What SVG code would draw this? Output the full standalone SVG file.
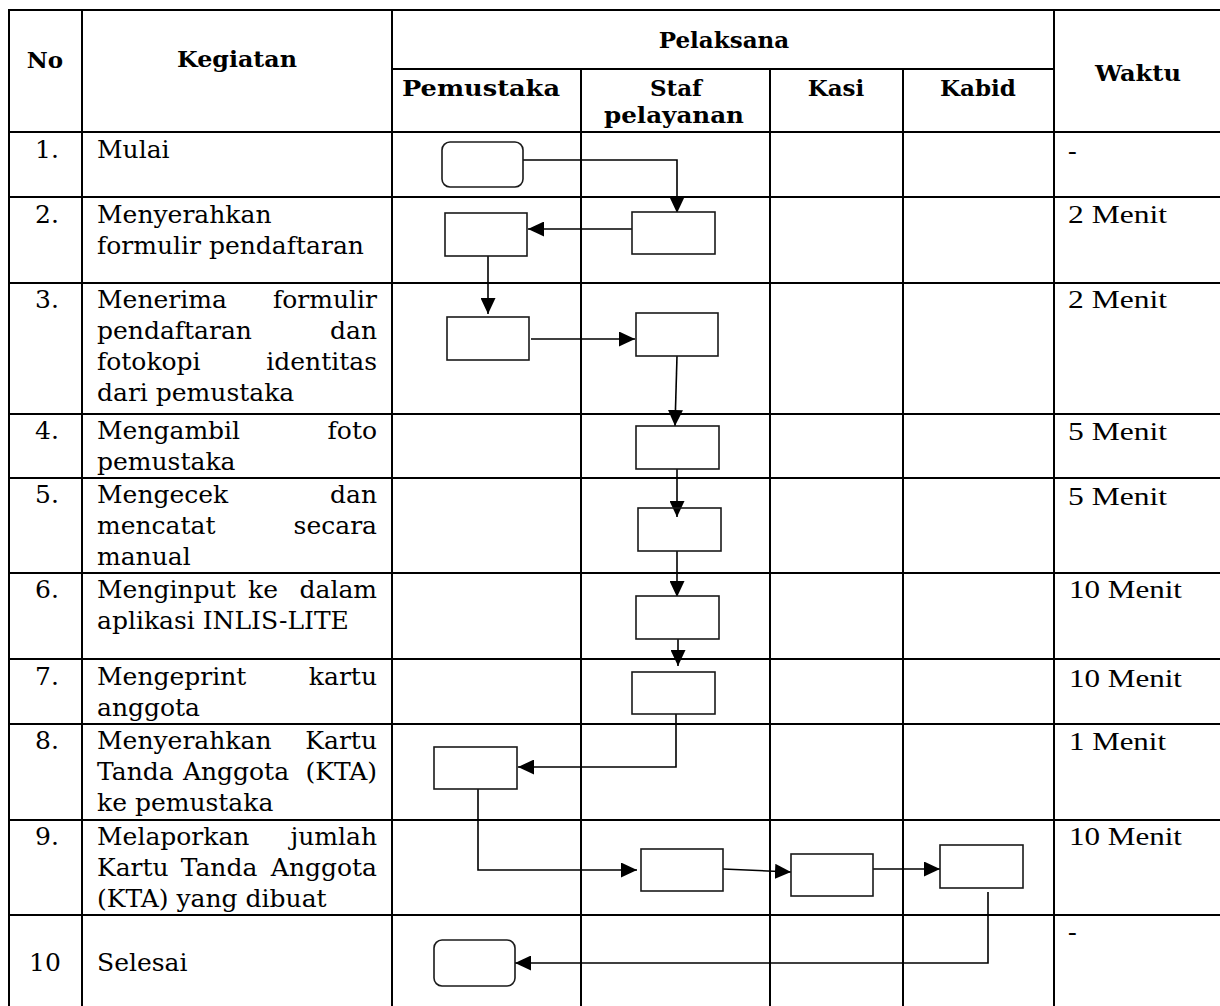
<svg xmlns="http://www.w3.org/2000/svg" width="1220" height="1006" viewBox="0 0 1220 1006">
<style>
.grid{stroke:#000;stroke-width:2;fill:none}
.box{fill:#fff;stroke:#1a1a1a;stroke-width:1.6}
.con{fill:none;stroke:#000;stroke-width:1.6}
.h{font-family:"DejaVu Serif","Liberation Serif",serif;font-weight:bold;font-size:23px;fill:#000}
.t{font-family:"DejaVu Serif","Liberation Serif",serif;font-size:25px;fill:#000}
.n{font-family:"DejaVu Serif","Liberation Serif",serif;font-size:25px;fill:#000;text-anchor:middle}
.w{font-family:"Liberation Serif","Times New Roman",serif;font-size:26px;fill:#000}
.c{text-anchor:middle}
.e{text-anchor:end}
</style>
<defs>
<marker id="arr" viewBox="0 0 16 15" markerWidth="16" markerHeight="15" refX="16" refY="7.5" orient="auto" markerUnits="userSpaceOnUse">
<path d="M0,0 L16,7.5 L0,15 z" fill="#000"/>
</marker>
</defs>
<rect width="1220" height="1006" fill="#fff"/>
<g id="table">
<path class="grid" d="M9,10 H1220 M392,69 H1054 M9,132 H1220 M9,197 H1220 M9,283 H1220 M9,414 H1220 M9,478 H1220 M9,573 H1220 M9,659 H1220 M9,724 H1220 M9,820 H1220 M9,915 H1220"/>
<path class="grid" d="M9,9 V1006 M82,9 V1006 M392,9 V1006 M1054,9 V1006 M581,69 V1006 M770,69 V1006 M903,69 V1006"/>
<text class="h c" x="45" y="68">No</text>
<text class="h c" x="237" y="67" textLength="120" lengthAdjust="spacingAndGlyphs">Kegiatan</text>
<text class="h c" x="724" y="48">Pelaksana</text>
<text class="h c" x="481" y="96" textLength="158" lengthAdjust="spacingAndGlyphs">Pemustaka</text>
<text class="h c" x="676" y="96">Staf</text>
<text class="h c" x="674" y="123" textLength="140" lengthAdjust="spacingAndGlyphs">pelayanan</text>
<text class="h c" x="836" y="96">Kasi</text>
<text class="h c" x="978" y="96">Kabid</text>
<text class="h c" x="1138" y="81" textLength="86" lengthAdjust="spacingAndGlyphs">Waktu</text>
<text class="n" x="47" y="158">1.</text>
<text class="n" x="47" y="223">2.</text>
<text class="n" x="47" y="308">3.</text>
<text class="n" x="47" y="439">4.</text>
<text class="n" x="47" y="503">5.</text>
<text class="n" x="47" y="598">6.</text>
<text class="n" x="47" y="685">7.</text>
<text class="n" x="47" y="749">8.</text>
<text class="n" x="47" y="845">9.</text>
<text class="n" x="45" y="971">10</text>
<text class="t" x="97" y="158">Mulai</text>
<text class="t" x="97" y="223">Menyerahkan</text>
<text class="t" x="97" y="254">formulir pendaftaran</text>
<text class="t" x="97" y="308">Menerima</text><text class="t e" x="377" y="308">formulir</text>
<text class="t" x="97" y="339">pendaftaran</text><text class="t e" x="377" y="339">dan</text>
<text class="t" x="97" y="370">fotokopi</text><text class="t e" x="377" y="370">identitas</text>
<text class="t" x="97" y="401">dari pemustaka</text>
<text class="t" x="97" y="439">Mengambil</text><text class="t e" x="377" y="439">foto</text>
<text class="t" x="97" y="470">pemustaka</text>
<text class="t" x="97" y="503">Mengecek</text><text class="t e" x="377" y="503">dan</text>
<text class="t" x="97" y="534">mencatat</text><text class="t e" x="377" y="534">secara</text>
<text class="t" x="97" y="565">manual</text>
<text class="t" x="97" y="598">Menginput</text><text class="t c" x="263" y="598">ke</text><text class="t e" x="377" y="598">dalam</text>
<text class="t" x="97" y="629">aplikasi INLIS-LITE</text>
<text class="t" x="97" y="685">Mengeprint</text><text class="t e" x="377" y="685">kartu</text>
<text class="t" x="97" y="716">anggota</text>
<text class="t" x="97" y="749">Menyerahkan</text><text class="t e" x="377" y="749">Kartu</text>
<text class="t" x="97" y="780">Tanda</text><text class="t c" x="236" y="780">Anggota</text><text class="t e" x="377" y="780">(KTA)</text>
<text class="t" x="97" y="811">ke pemustaka</text>
<text class="t" x="97" y="845">Melaporkan</text><text class="t e" x="377" y="845">jumlah</text>
<text class="t" x="97" y="876">Kartu</text><text class="t c" x="219" y="876">Tanda</text><text class="t e" x="377" y="876">Anggota</text>
<text class="t" x="97" y="907">(KTA) yang dibuat</text>
<text class="t" x="97" y="971">Selesai</text>
<text class="w" x="1068" y="159">-</text>
<text class="w" x="1068" y="223" textLength="99" lengthAdjust="spacingAndGlyphs">2 Menit</text>
<text class="w" x="1068" y="308" textLength="99" lengthAdjust="spacingAndGlyphs">2 Menit</text>
<text class="w" x="1068" y="440" textLength="99" lengthAdjust="spacingAndGlyphs">5 Menit</text>
<text class="w" x="1068" y="505" textLength="99" lengthAdjust="spacingAndGlyphs">5 Menit</text>
<text class="w" x="1069" y="598" textLength="113" lengthAdjust="spacingAndGlyphs">10 Menit</text>
<text class="w" x="1069" y="687" textLength="113" lengthAdjust="spacingAndGlyphs">10 Menit</text>
<text class="w" x="1069" y="750" textLength="97" lengthAdjust="spacingAndGlyphs">1 Menit</text>
<text class="w" x="1069" y="845" textLength="113" lengthAdjust="spacingAndGlyphs">10 Menit</text>
<text class="w" x="1068" y="940">-</text>
</g>
<g id="connectors">
<path class="con" d="M523,160 H677 V213" marker-end="url(#arr)"/>
<path class="con" d="M632,229 H528" marker-end="url(#arr)"/>
<path class="con" d="M488,256 V314" marker-end="url(#arr)"/>
<path class="con" d="M531,339 H635" marker-end="url(#arr)"/>
<path class="con" d="M677,356 L675,426" marker-end="url(#arr)"/>
<path class="con" d="M677,469 V517" marker-end="url(#arr)"/>
<path class="con" d="M677,551 V597" marker-end="url(#arr)"/>
<path class="con" d="M678,639 V666" marker-end="url(#arr)"/>
<path class="con" d="M676,714 V767 H518" marker-end="url(#arr)"/>
<path class="con" d="M478,789 V870 H637" marker-end="url(#arr)"/>
<path class="con" d="M723,869 L791,872" marker-end="url(#arr)"/>
<path class="con" d="M873,869 H940" marker-end="url(#arr)"/>
<path class="con" d="M988,892 V963 H515" marker-end="url(#arr)"/>
</g>
<g id="n1-mulai"><rect class="box" x="442" y="142" width="81" height="45" rx="8"/></g>
<g id="n2-pemustaka"><rect class="box" x="445" y="213" width="82" height="43"/></g>
<g id="n2-staf"><rect class="box" x="632" y="212" width="83" height="42"/></g>
<g id="n3-pemustaka"><rect class="box" x="447" y="317" width="82" height="43"/></g>
<g id="n3-staf"><rect class="box" x="636" y="313" width="82" height="43"/></g>
<g id="n4-staf"><rect class="box" x="636" y="426" width="83" height="43"/></g>
<g id="n5-staf"><rect class="box" x="638" y="508" width="83" height="43" fill-opacity="0"/></g>
<g id="n6-staf"><rect class="box" x="636" y="596" width="83" height="43"/></g>
<g id="n7-staf"><rect class="box" x="632" y="672" width="83" height="42"/></g>
<g id="n8-pemustaka"><rect class="box" x="434" y="747" width="83" height="42"/></g>
<g id="n9-staf"><rect class="box" x="641" y="849" width="82" height="42"/></g>
<g id="n9-kasi"><rect class="box" x="791" y="854" width="82" height="42"/></g>
<g id="n9-kabid"><rect class="box" x="940" y="845" width="83" height="43"/></g>
<g id="n10-selesai"><rect class="box" x="434" y="940" width="81" height="46" rx="8"/></g>
</svg>
